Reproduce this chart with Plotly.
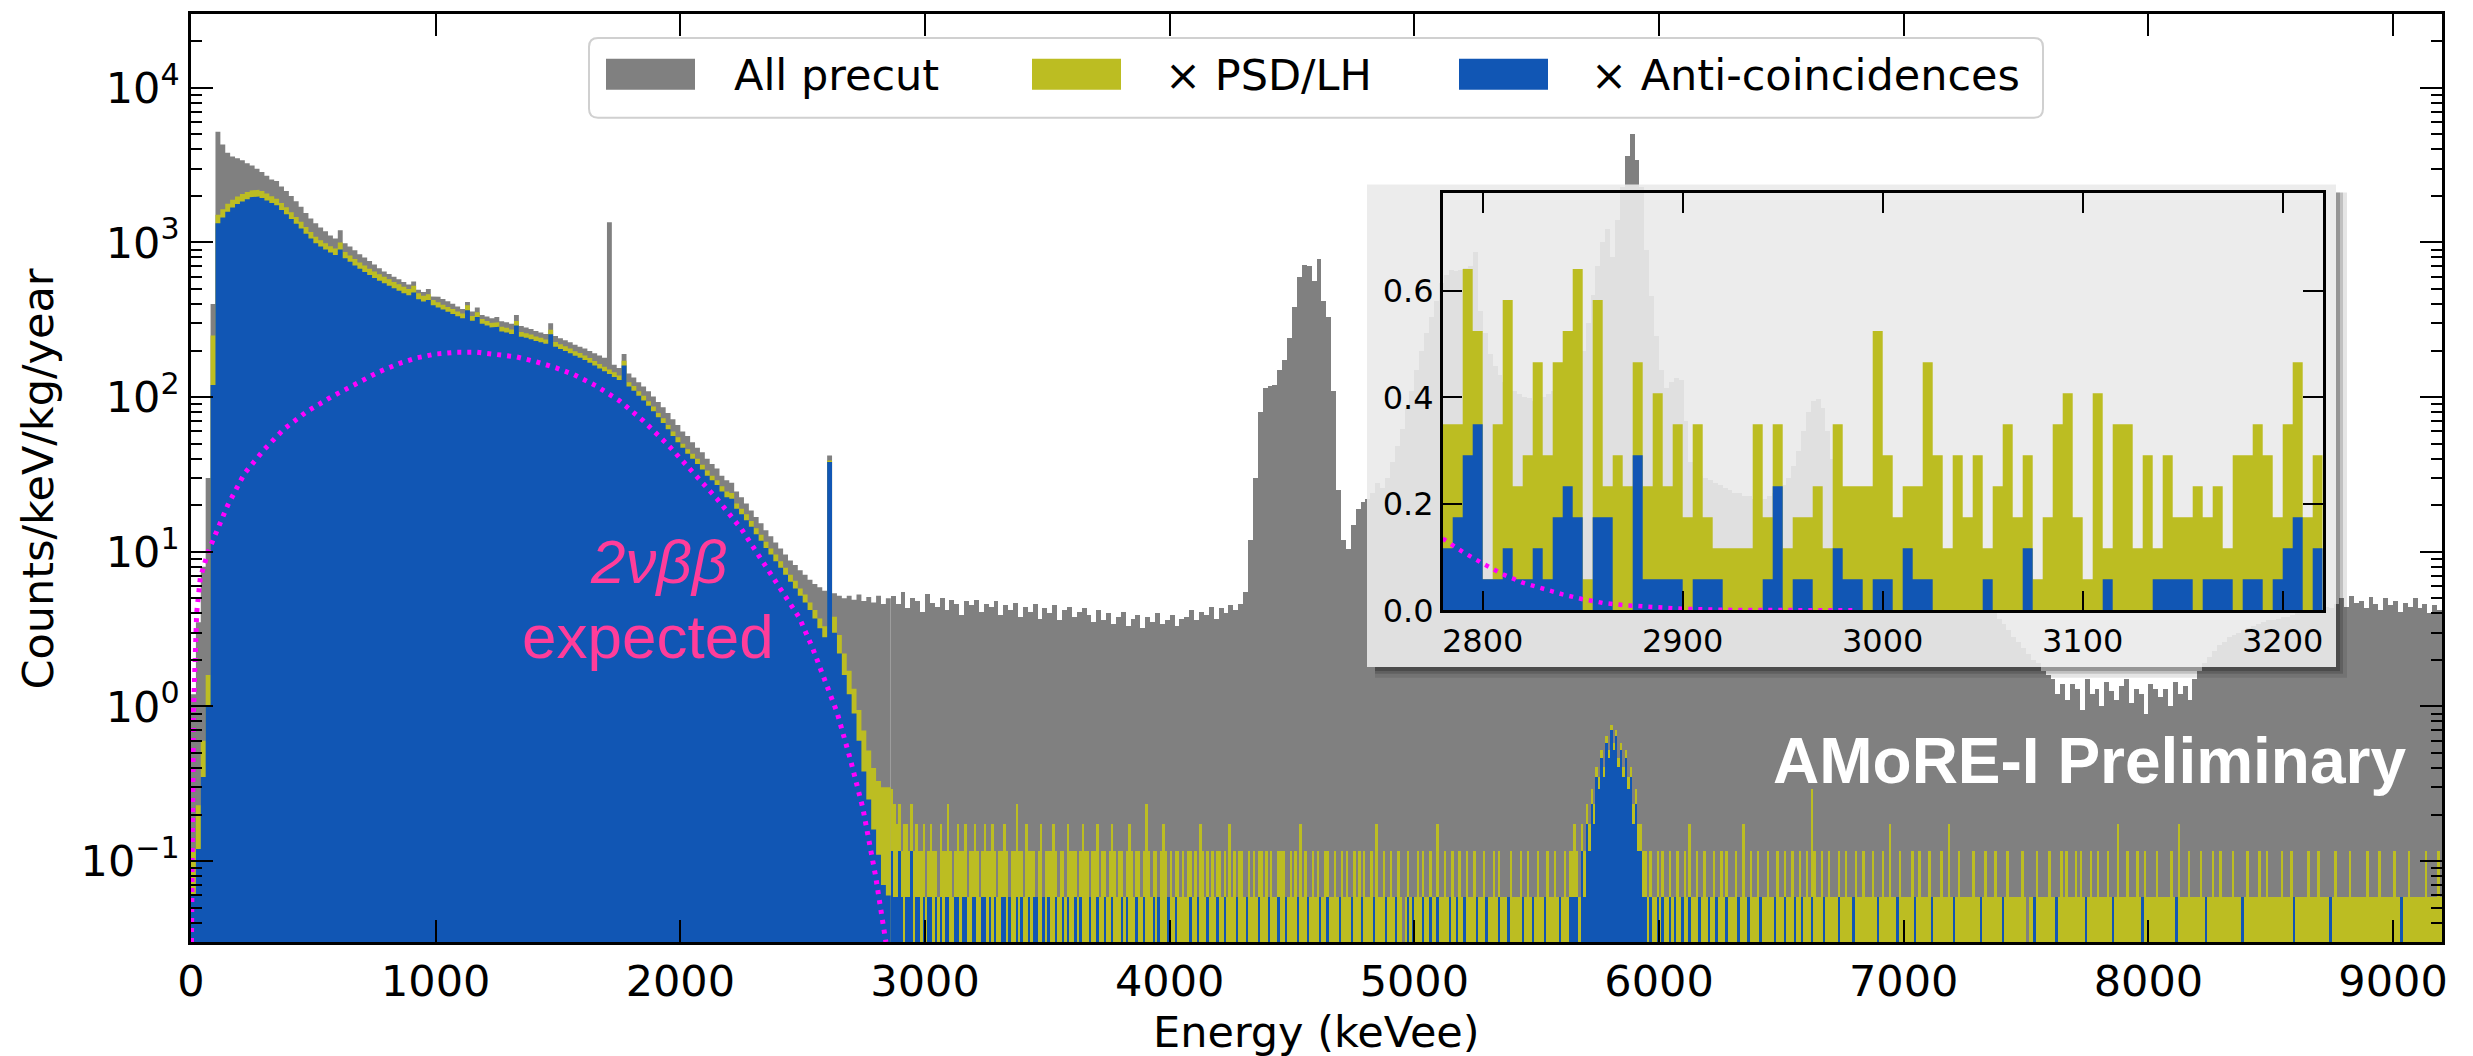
import math
import plotly.graph_objects as go

# ---------------------------------------------------------------- data
UNIT = 0.0583  # one event in a 1 keV bin, in counts/keV/kg/year

# low-energy part: 20 keV bins starting at 0 keV
LOW_START, LOW_W = 0, 20
gray_low = [1.2, 3.5, 8, 30, 400, 5200, 4300, 3800, 3600, 3500,
            3400, 3250, 3150, 3000, 2850, 2700, 2550, 2500, 2300, 2150,
            2000, 1850, 1700, 1550, 1430, 1330, 1250, 1180, 1110, 1060,
            1200, 990, 940, 890, 840, 800, 760, 720, 680, 650,
            625, 600, 578, 556, 535, 560, 495, 478, 500, 448,
            445, 431, 417, 402, 386, 372, 412, 358, 380, 340,
            332, 324, 330, 310, 305, 298, 340, 288, 282, 276,
            268, 262, 256, 300, 248, 240, 233, 226, 218, 212,
            206, 199, 192, 186, 180, 1350, 162, 154, 190, 142,
            134, 125, 117, 109, 101, 93, 86, 79, 72, 66,
            60, 56, 51, 47, 44, 40, 37, 34.5, 31, 29,
            28, 24.5, 22.5, 20.5, 18.5, 16.8, 15.3, 13.8, 12.6, 11.5,
            10.5, 9.6, 8.8, 8.2, 7.6, 7.1, 6.6, 6.2, 5.9, 5.6,
            42, 5.4, 5.2, 5.0, 5.2, 4.9, 5.3, 4.8, 5.1, 4.7,
            5.2, 4.6, 5.0]
psd_low = [0.12, 0.23, 0.6, 1.6, 250, 1510, 1640, 1780, 1890, 1980,
           2060, 2120, 2170, 2190, 2150, 2070, 1990, 1920, 1800, 1690,
           1570, 1460, 1360, 1260, 1170, 1090, 1035, 990, 945, 913,
           1000, 869, 825, 781, 743, 710, 677, 649, 622, 600,
           578, 556, 536, 517, 501, 525, 470, 452, 462, 425,
           410, 396, 383, 371, 358, 347, 392, 335, 354, 320,
           311, 302, 305, 285, 281, 274, 311, 264, 259, 254,
           247, 242, 236, 273, 227, 220, 213, 206, 198, 193,
           186, 179, 171, 164, 157, 151, 145, 138, 172, 125,
           118, 109, 102, 94, 87, 79, 73, 66, 60, 55,
           50, 46, 43, 40, 36.5, 33.5, 31, 29, 26.5, 24.5,
           24, 20.5, 19, 17.5, 15.8, 14.2, 12.9, 11.6, 10.5, 9.6,
           8.7, 7.9, 7.1, 6.5, 5.8, 5.3, 4.7, 4.2, 3.7, 3.3,
           39, 3.8, 2.9, 2.2, 1.7, 1.3, 0.95, 0.7, 0.52, 0.4,
           0.33, 0.3, 0.3]
anti_low = [0.06, 0.12, 0.35, 1.0, 120, 1330, 1450, 1580, 1680, 1770,
            1840, 1900, 1960, 1980, 1940, 1870, 1800, 1740, 1620, 1520,
            1420, 1320, 1230, 1140, 1060, 990, 940, 900, 860, 830,
            900, 790, 750, 710, 675, 645, 615, 590, 565, 545,
            525, 505, 487, 470, 455, 475, 430, 415, 425, 392,
            380, 368, 356, 345, 333, 323, 365, 312, 330, 298,
            290, 282, 285, 266, 262, 256, 290, 246, 242, 237,
            231, 226, 221, 255, 212, 205, 199, 192, 185, 180,
            174, 167, 160, 153, 147, 141, 135, 129, 160, 117,
            110, 102, 95, 88, 81, 74, 68, 62, 56, 51,
            47, 43, 40, 37, 34, 31, 29, 27, 24.5, 22.5,
            22, 19, 17.5, 16, 14.5, 13, 11.8, 10.6, 9.6, 8.7,
            7.9, 7.1, 6.4, 5.8, 5.2, 4.7, 4.2, 3.7, 3.2, 2.8,
            38, 3.0, 2.2, 1.6, 1.2, 0.9, 0.6, 0.38, 0.25, 0.16,
            0.11, 0.07, 0.06]

# high-energy "All precut": 20 keV bins starting at 2860 keV
HIGH_START, HIGH_W = 2860, 20
gray_high = [5.2, 4.6, 5.5, 4.3, 5.0, 4.8, 4.1, 5.3, 4.7, 4.4, 5.0, 4.2, 4.9, 4.6, 3.9, 4.8, 4.5, 4.9, 4.1, 4.6,
             4.4, 4.8, 3.9, 4.5, 4.2, 4.7, 3.8, 4.4, 4.1, 4.6, 3.7, 4.3, 4.0, 4.5, 3.6, 4.2, 4.4, 3.8, 4.1, 4.3,
             3.9, 3.5, 4.2, 3.6, 4.0, 3.4, 3.8, 4.1, 3.3, 3.7, 3.9, 3.2, 3.8, 3.5, 4.0, 3.4, 3.6, 3.9, 3.3, 3.7,
             3.8, 4.2, 3.6, 4.1, 3.9, 4.4, 3.7, 4.3, 4.0, 4.5, 4.2, 4.6, 5.5, 12, 30, 80, 115, 118, 120, 150,
             175, 240, 380, 600, 720, 700, 560, 780, 420, 330, 110, 25, 12, 10.5, 15, 19, 21, 22, 24, 28,
             26, 30, 38, 48, 62, 85, 110, 150, 200, 260, 330, 420, 550, 620, 660, 650, 660, 680, 700, 870,
             360, 260, 190, 160, 140, 125, 115, 110, 105, 100, 98, 95, 95, 100, 105, 110, 115, 125, 140, 160,
             170, 200, 300, 460, 700, 1000, 1230, 800, 1400, 2300, 3600, 5000, 3400, 2300, 900, 450, 250, 150, 115, 125,
             133, 130, 70, 38, 33, 31, 30, 29, 28, 27, 26, 25, 24, 24, 23, 23, 22, 22, 22, 23,
             24, 25, 27, 30, 36, 45, 60, 80, 95, 97, 85, 60, 40, 28, 22, 18, 16, 14, 13, 12,
             11, 10.5, 10, 9.6, 9.2, 8.8, 8.5, 8.2, 7.9, 7.6, 7.3, 7.0, 6.8, 6.6, 6.4, 6.2, 6.0, 5.8, 5.6, 5.4,
             5.2, 5.0, 4.8, 4.6, 4.3, 4.0, 3.7, 3.4, 3.1, 2.8, 2.6, 2.4, 2.2, 2.0, 1.9, 1.7, 1.6, 1.5, 1.2, 1.4,
             1.1, 1.4, 1.3, 0.95, 1.5, 1.2, 1.3, 1.0, 1.45, 1.25, 1.1, 1.35, 1.5, 1.05, 1.3, 1.2, 0.9, 1.4, 1.3, 1.15,
             1.3, 1.0, 1.45, 1.2, 1.35, 1.1, 1.5, 1.7, 1.9, 2.1, 2.3, 2.5, 2.6, 2.8, 2.9, 3.0, 3.1, 3.2, 3.3, 3.4,
             3.5, 3.6, 3.6, 3.7, 3.8, 3.8, 3.9, 4.0, 4.0, 4.1, 4.2, 4.2, 4.3, 4.4, 4.3, 4.6, 5.0, 4.4, 5.2, 4.7,
             4.8, 4.3, 5.1, 4.6, 4.2, 5.0, 4.5, 4.8, 4.1, 4.7, 4.4, 5.0, 4.3, 4.6, 4.0, 4.5, 4.2]

# high-energy PSD / anti-coincidence events: counts, 10 keV bins from 2860 keV
FOREST_START, FOREST_W = 2860, 10
psd_high_counts = [
    5, 4, 3, 4, 2, 3, 3, 2, 4, 2, 3, 2, 2, 3, 1, 2, 3, 2, 2, 1, 3, 2, 2, 4, 2, 1, 2, 3, 2, 2, 3, 1, 2, 2, 3, 2, 1, 2, 3, 2,
    2, 3, 2, 1, 2, 2, 3, 2, 1, 2, 2, 4, 2, 2, 1, 3, 2, 2, 2, 1, 2, 3, 1, 2, 2, 2, 3, 2, 1, 2, 2, 1, 3, 2, 2, 2, 1, 2, 3, 2,
    2, 1, 2, 2, 3, 1, 2, 2, 1, 2, 3, 2, 1, 2, 2, 1, 2, 3, 2, 1, 2, 2, 1, 2, 4, 2, 1, 2, 2, 1, 2, 3, 2, 1, 2, 1, 2, 2, 1, 2,
    1, 2, 2, 1, 2, 1, 3, 2, 1, 2, 1, 2, 1, 2, 2, 1, 2, 1, 3, 1, 2, 1, 2, 2, 1, 1, 2, 1, 2, 1, 2, 2, 1, 2, 1, 2, 1, 1, 2, 2,
    2, 1, 1, 2, 1, 2, 1, 3, 1, 2, 1, 1, 2, 1, 2, 1, 1, 2, 2, 1, 1, 2, 1, 1, 2, 1, 2, 1, 1, 2, 1, 2, 1, 2, 1, 1, 2, 1, 3, 1,
    1, 2, 1, 1, 2, 1, 1, 2, 1, 0, 1, 2, 1, 1, 1, 2, 1, 2, 1, 1, 2, 1, 1, 3, 1, 1, 2, 1, 1, 2, 1, 1, 2, 1, 1, 2, 1, 1, 2, 1,
    1, 1, 2, 1, 1, 1, 2, 1, 2, 1, 1, 1, 1, 2, 1, 1, 1, 2, 1, 1, 2, 1, 1, 1, 2, 1, 1, 1, 2, 1, 1, 2, 1, 1, 1, 2, 1, 2, 2, 3,
    2, 1, 3, 2, 4, 3, 5, 4, 7, 6, 9, 7, 11, 9, 13, 10, 12, 8, 10, 7, 9, 6, 7, 4, 5, 3, 3, 2, 2, 1, 2, 1, 1, 2, 1, 2, 1, 1, 2, 1,
    1, 2, 1, 1, 2, 1, 3, 1, 1, 2, 1, 1, 2, 1, 1, 1, 2, 1, 1, 2, 1, 2, 1, 1, 1, 2, 1, 1, 3, 1, 1, 2, 1, 1, 2, 1, 1, 1, 2, 1,
    1, 1, 2, 1, 1, 2, 1, 1, 2, 1, 1, 2, 1, 1, 2, 1, 5, 2, 1, 1, 2, 1, 1, 2, 1, 1, 1, 2, 1, 1, 2, 1, 1, 1, 2, 1, 1, 2, 1, 1,
    1, 2, 1, 1, 1, 2, 1, 1, 3, 1, 1, 1, 2, 1, 1, 1, 1, 2, 1, 1, 2, 1, 1, 1, 2, 1, 1, 1, 1, 2, 1, 1, 3, 1, 1, 1, 2, 1, 1, 1,
    1, 1, 2, 1, 1, 1, 1, 2, 1, 1, 1, 2, 1, 1, 1, 1, 2, 1, 1, 1, 1, 1, 2, 1, 0, 1, 1, 1, 2, 1, 1, 1, 1, 2, 1, 1, 1, 1, 2, 1,
    2, 1, 1, 1, 2, 1, 2, 1, 1, 1, 2, 1, 1, 2, 1, 1, 1, 2, 1, 1, 1, 3, 1, 1, 1, 2, 1, 1, 1, 2, 1, 1, 2, 1, 1, 1, 1, 2, 1, 1,
    1, 1, 1, 2, 1, 1, 3, 1, 1, 1, 2, 1, 1, 1, 1, 2, 1, 1, 1, 1, 2, 1, 1, 2, 1, 1, 1, 1, 2, 1, 1, 1, 1, 1, 2, 1, 1, 1, 1, 2,
    1, 1, 2, 1, 1, 1, 1, 1, 2, 1, 1, 1, 2, 1, 1, 1, 1, 1, 1, 2, 1, 1, 1, 2, 1, 1, 1, 1, 1, 1, 2, 1, 1, 1, 1, 1, 2, 1, 1, 1,
    1, 1, 1, 2, 1, 1, 1, 1, 2, 1, 1, 1, 1, 1, 2, 1, 1, 1, 1, 1, 2, 1, 1, 1, 1, 1, 1, 2, 1, 1, 1, 1, 2, 1]
anti_high_counts = [
    2, 1, 1, 2, 1, 0, 1, 1, 2, 0, 1, 1, 0, 1, 0, 1, 1, 0, 1, 0, 1, 0, 1, 1, 0, 0, 1, 1, 0, 1, 1, 0, 0, 1, 1, 0, 0, 1, 1, 0,
    1, 0, 1, 0, 0, 1, 1, 0, 1, 0, 0, 1, 0, 1, 0, 0, 1, 0, 1, 1, 0, 0, 1, 0, 1, 0, 0, 1, 0, 0, 1, 0, 1, 0, 0, 1, 0, 1, 0, 0,
    0, 1, 0, 0, 1, 0, 0, 1, 0, 0, 1, 0, 0, 0, 1, 0, 1, 0, 0, 0, 1, 0, 0, 1, 0, 0, 0, 1, 0, 1, 0, 0, 0, 1, 0, 0, 1, 0, 0, 0,
    0, 0, 1, 0, 0, 1, 0, 0, 0, 1, 0, 0, 0, 1, 0, 0, 1, 0, 0, 0, 0, 1, 0, 0, 0, 1, 0, 0, 0, 0, 1, 0, 0, 0, 1, 0, 0, 0, 1, 0,
    0, 1, 0, 0, 0, 0, 1, 0, 0, 0, 1, 0, 0, 0, 0, 1, 0, 0, 1, 0, 0, 0, 0, 1, 0, 0, 0, 0, 1, 0, 0, 0, 1, 0, 0, 0, 0, 1, 0, 0,
    0, 0, 1, 0, 0, 0, 1, 0, 0, 0, 0, 1, 0, 1, 0, 0, 0, 1, 0, 0, 1, 0, 0, 1, 0, 0, 0, 0, 1, 0, 0, 1, 0, 0, 1, 0, 0, 0, 0, 1,
    0, 0, 0, 1, 0, 0, 0, 0, 1, 0, 0, 0, 1, 0, 0, 0, 0, 0, 1, 0, 0, 0, 1, 0, 0, 0, 0, 1, 0, 0, 0, 0, 0, 1, 0, 0, 0, 1, 1, 1,
    1, 0, 2, 1, 3, 2, 4, 3, 6, 5, 8, 6, 10, 8, 12, 9, 11, 7, 9, 6, 8, 5, 6, 3, 4, 2, 2, 1, 1, 0, 1, 0, 0, 1, 0, 1, 0, 0, 1, 0,
    1, 0, 0, 1, 0, 0, 1, 0, 0, 0, 1, 0, 0, 0, 1, 0, 0, 1, 0, 0, 0, 1, 0, 0, 0, 0, 1, 0, 0, 0, 1, 0, 0, 0, 0, 1, 0, 0, 0, 0,
    0, 1, 0, 0, 0, 1, 0, 0, 0, 1, 0, 0, 1, 0, 0, 0, 1, 0, 0, 0, 0, 1, 0, 0, 0, 0, 0, 1, 0, 0, 0, 0, 0, 1, 0, 0, 0, 0, 0, 0,
    0, 0, 0, 1, 0, 0, 0, 0, 0, 0, 0, 1, 0, 0, 0, 0, 0, 0, 1, 0, 0, 0, 0, 0, 0, 1, 0, 0, 0, 0, 0, 0, 0, 0, 1, 0, 0, 0, 0, 0,
    0, 0, 0, 0, 0, 1, 0, 0, 0, 0, 0, 0, 0, 0, 1, 0, 0, 0, 0, 0, 0, 0, 0, 0, 0, 0, 0, 1, 0, 0, 0, 0, 0, 0, 0, 0, 1, 0, 0, 0,
    0, 0, 0, 0, 0, 0, 0, 0, 1, 0, 0, 0, 0, 0, 0, 0, 0, 0, 0, 1, 0, 0, 0, 0, 0, 0, 0, 0, 0, 0, 0, 1, 0, 0, 0, 0, 0, 0, 0, 0,
    0, 0, 0, 0, 0, 1, 0, 0, 0, 0, 0, 0, 0, 0, 0, 0, 0, 1, 0, 0, 0, 0, 0, 0, 0, 0, 0, 0, 0, 0, 0, 0, 1, 0, 0, 0, 0, 0, 0, 0,
    0, 0, 0, 0, 0, 0, 0, 0, 0, 0, 0, 0, 0, 1, 0, 0, 0, 0, 0, 0, 0, 0, 0, 0, 0, 0, 0, 0, 1, 0, 0, 0, 0, 0, 0, 0, 0, 0, 0, 0,
    0, 0, 0, 0, 0, 0, 0, 0, 0, 0, 0, 0, 0, 0, 0, 0, 0, 1, 0, 0, 0, 0, 0, 0, 0, 0, 0, 0, 0, 0, 0, 0, 0, 0]

# expected 2vbb spectrum (main panel)
tbb_E = [2, 6, 10, 16, 23, 38, 70, 100, 150, 218, 300, 379, 470, 572, 670, 765, 850, 926, 1000, 1087,
         1170, 1250, 1330, 1407, 1490, 1564, 1657, 1750, 1850, 1950, 2050, 2150, 2250, 2350,
         2430, 2486, 2540, 2590, 2641, 2694, 2746, 2798, 2840]
tbb_v = [0.03, 0.3, 0.9, 1.8, 4.0, 6.8, 10, 13, 20, 32, 46, 62, 80, 100, 122, 145, 165, 180, 190, 195,
         195, 190, 182, 170, 155, 140, 118, 95, 70, 49, 33, 22, 14, 8,
         5, 3.75, 2.4, 1.5, 0.91, 0.46, 0.22, 0.08, 0.03]

# inset: 5 keV bins from 2780 keV, in counts
INSET_START, INSET_W = 2780, 5
inset_psd_counts = [6, 6, 11, 9, 1, 6, 10, 4, 5, 8, 5, 8, 9, 11, 1, 10, 4, 5, 4, 8,
                    4, 7, 4, 6, 3, 6, 3, 2, 2, 2, 2, 6, 3, 6, 2, 3, 3, 4, 2, 6,
                    4, 4, 4, 9, 5, 3, 4, 4, 8, 5, 2, 5, 3, 5, 2, 4, 6, 3, 5, 1,
                    3, 6, 7, 3, 1, 7, 2, 6, 6, 2, 5, 2, 5, 3, 3, 4, 3, 4, 2, 5,
                    5, 6, 5, 3, 6, 8, 3, 5]
inset_anti_counts = [2, 3, 5, 6, 1, 1, 2, 1, 1, 2, 1, 3, 4, 3, 0, 3, 3, 0, 0, 5,
                     1, 1, 1, 1, 0, 1, 1, 1, 0, 0, 0, 0, 1, 4, 0, 1, 1, 0, 0, 2,
                     1, 1, 0, 1, 1, 0, 2, 1, 1, 0, 0, 0, 0, 0, 1, 0, 0, 0, 2, 0,
                     0, 0, 0, 0, 0, 0, 1, 0, 0, 0, 0, 1, 1, 1, 1, 0, 1, 1, 1, 0,
                     1, 1, 0, 1, 2, 3, 0, 2]
inset_tbb_E = [2780, 2790, 2800, 2810, 2820, 2830, 2840, 2850, 2860, 2870, 2880, 2890, 2900, 2920, 2950, 2985]
inset_tbb_v = [0.135, 0.11, 0.088, 0.068, 0.052, 0.04, 0.03, 0.021, 0.014, 0.01, 0.007, 0.005, 0.003, 0.001, 0.0003, 0.0]

x_ticks = [0, 1000, 2000, 3000, 4000, 5000, 6000, 7000, 8000, 9000]
y_ticks = [0.1, 1, 10, 100, 1000, 10000]
y_ticktext = ["10<sup>\u22121</sup>", "10<sup>0</sup>", "10<sup>1</sup>",
              "10<sup>2</sup>", "10<sup>3</sup>", "10<sup>4</sup>"]
inset_x_ticks = [2800, 2900, 3000, 3100, 3200]
inset_y_ticks = [0.0, 0.2, 0.4, 0.6]
inset_y_ticktext = ["0.0", "0.2", "0.4", "0.6"]

legend_labels = ["All precut", "\u00d7 PSD/LH", "\u00d7 Anti-coincidences"]

# ---------------------------------------------------------------- style
GRAY, OLIVE, BLUE, MAGENTA, PINK = "#808080", "#bcbd22", "#1156b4", "#ff00ff", "#ff3d9a"
W, H = 2473, 1056
L, R, T, B = 191, 2442, 11, 942        # main plot area in pixels
TICKFONT = dict(family="DejaVu Sans", size=43, color="black")


def P(px, py):
    return (px - L) / (R - L), (B - py) / (B - T)


def steps(start, width, vals, scale=1.0):
    xs, ys = [], []
    for i, v in enumerate(vals):
        x0 = start + i * width
        xs += [x0, x0 + width]
        ys += [v * scale, v * scale]
    return xs, ys


def fill_trace(xs, ys, color, xa="x", ya="y"):
    return go.Scatter(x=xs, y=ys, mode="lines", line=dict(width=0, color=color),
                      fill="tozeroy", fillcolor=color, xaxis=xa, yaxis=ya,
                      hoverinfo="skip", showlegend=False)


def bar_trace(start, width, vals, color, scale=1.0):
    xs = [start + (i + 0.5) * width for i in range(len(vals))]
    ys = [v * scale if v > 0 else None for v in vals]
    return go.Bar(x=xs, y=ys, width=width, marker=dict(color=color, line=dict(width=0)),
                   hoverinfo="skip", showlegend=False, xaxis="x", yaxis="y")


fig = go.Figure()

# main histograms, low-energy part (filled steps)
fig.add_trace(fill_trace(*steps(LOW_START, LOW_W, gray_low), GRAY))
fig.add_trace(fill_trace(*steps(LOW_START, LOW_W, psd_low), OLIVE))
fig.add_trace(fill_trace(*steps(LOW_START, LOW_W, anti_low), BLUE))
# high-energy part (bars, empty bins left empty)
fig.add_trace(bar_trace(HIGH_START, HIGH_W, gray_high, GRAY))
fig.add_trace(bar_trace(FOREST_START, FOREST_W, psd_high_counts, OLIVE, UNIT))
fig.add_trace(bar_trace(FOREST_START, FOREST_W, anti_high_counts, BLUE, UNIT))

fig.add_trace(go.Scatter(x=tbb_E, y=tbb_v, mode="lines",
                         line=dict(color=MAGENTA, width=5, dash="4px,6px"),
                         hoverinfo="skip", showlegend=False))

# inset frame (overlay axes in pixel units): shadow + translucent panel
bx0, by0, bx1, by1 = 1367, 182, 2336, 666


def lshape(d):
    return ([bx1, bx1 + d, bx1 + d, bx0 + 8, bx0 + 8, bx1, bx1],
            [by0 + 8, by0 + 8, by1 + d, by1 + d, by1, by1, by0 + 8])


for d, a in [(11, 0.10), (7, 0.16), (4, 0.22)]:
    sx, sy = lshape(d)
    fig.add_trace(go.Scatter(x=sx, y=sy, mode="lines", fill="toself",
                             fillcolor=f"rgba(0,0,0,{a})", line=dict(width=0),
                             xaxis="x2", yaxis="y2", hoverinfo="skip", showlegend=False))
fig.add_trace(go.Scatter(x=[bx0, bx1, bx1, bx0, bx0], y=[by0, by0, by1, by1, by0],
                         mode="lines", fill="toself", fillcolor="rgba(234,234,234,0.9)",
                         line=dict(width=0), xaxis="x2", yaxis="y2",
                         hoverinfo="skip", showlegend=False))

# inset histograms
fig.add_trace(fill_trace(*steps(INSET_START, INSET_W, inset_psd_counts, UNIT), OLIVE, "x3", "y3"))
fig.add_trace(fill_trace(*steps(INSET_START, INSET_W, inset_anti_counts, UNIT), BLUE, "x3", "y3"))
fig.add_trace(go.Scatter(x=inset_tbb_E, y=inset_tbb_v, mode="lines",
                         line=dict(color=MAGENTA, width=4.5, dash="4px,6px"),
                         xaxis="x3", yaxis="y3", hoverinfo="skip", showlegend=False))

# ---------------------------------------------------------------- axes
common = dict(showline=True, linecolor="black", linewidth=2.5, ticks="inside",
              tickcolor="black", mirror="ticks", showgrid=False, zeroline=False)
minor_vals = [m * 10 ** d for d in range(-2, 5) for m in range(2, 10)
              if 0.03 <= m * 10 ** d <= 30000]

ix0, _ = P(1442.7, 0)
ix1, _ = P(2322.7, 0)
_, iy0 = P(0, 609.3)
_, iy1 = P(0, 190.7)

fig.update_layout(
    width=W, height=H, autosize=False,
    margin=dict(l=L, r=W - R, t=T, b=H - B, pad=0),
    paper_bgcolor="white", plot_bgcolor="rgba(0,0,0,0)",
    showlegend=False, hovermode=False, barmode="overlay", bargap=0,
    xaxis=dict(domain=[0, 1], range=[0, 9200], tickvals=x_ticks, ticklen=22, tickwidth=2,
               tickfont=TICKFONT, anchor="y", **common),
    yaxis=dict(domain=[0, 1], type="log", range=[math.log10(0.03), math.log10(30000)],
               tickvals=y_ticks, ticktext=y_ticktext, ticklen=22, tickwidth=2,
               tickfont=TICKFONT, anchor="x",
               minor=dict(ticks="inside", ticklen=11, tickwidth=1.6, tickcolor="black",
                          tickmode="array", tickvals=minor_vals),
               **common),
    xaxis2=dict(domain=[0, 1], range=[L, R], visible=False, anchor="y2", fixedrange=True),
    yaxis2=dict(domain=[0, 1], range=[B, T], visible=False, anchor="x2", fixedrange=True),
    xaxis3=dict(domain=[ix0, ix1], range=[2780, 3220], tickvals=inset_x_ticks, ticklen=20,
                tickwidth=2, tickfont=dict(family="DejaVu Sans", size=32, color="black"),
                anchor="y3", **common),
    yaxis3=dict(domain=[iy0, iy1], range=[0, 0.784], tickvals=inset_y_ticks,
                ticktext=inset_y_ticktext, ticklen=20, tickwidth=2,
                tickfont=dict(family="DejaVu Sans", size=32, color="black"),
                anchor="x3", **common),
)

# ---------------------------------------------------------------- texts
ann = []


def text(px, py, s, size, color="black", family="DejaVu Sans", xanchor="center", angle=0):
    x, y = P(px, py)
    ann.append(dict(x=x, y=y, xref="paper", yref="paper", text=s, showarrow=False,
                    xanchor=xanchor, yanchor="middle", textangle=angle,
                    font=dict(family=family, size=size, color=color)))


text(1316, 1032, "Energy (keVee)", 43)
text(38, 478, "Counts/keV/kg/year", 43, angle=-90)
text(658, 560, "<i>2\u03bd\u03b2\u03b2</i>", 62, PINK, "Liberation Sans")
text(648, 636, "expected", 62, PINK, "Liberation Sans")
text(2089, 760, "<b>AMoRE-I Preliminary</b>", 64, "white", "Liberation Sans")

# legend (drawn by hand to match the large patches)
shapes = []
lx0, ly0, lx1, ly1, r = 589, 35, 2043, 115, 9


def X(px):
    return P(px, 0)[0]


def Y(py):
    return P(0, py)[1]


path = (f"M {X(lx0 + r)},{Y(ly0)} L {X(lx1 - r)},{Y(ly0)} Q {X(lx1)},{Y(ly0)} {X(lx1)},{Y(ly0 + r)} "
        f"L {X(lx1)},{Y(ly1 - r)} Q {X(lx1)},{Y(ly1)} {X(lx1 - r)},{Y(ly1)} "
        f"L {X(lx0 + r)},{Y(ly1)} Q {X(lx0)},{Y(ly1)} {X(lx0)},{Y(ly1 - r)} "
        f"L {X(lx0)},{Y(ly0 + r)} Q {X(lx0)},{Y(ly0)} {X(lx0 + r)},{Y(ly0)} Z")
shapes.append(dict(type="path", path=path, xref="paper", yref="paper", layer="above",
                   fillcolor="rgba(255,255,255,0.8)", line=dict(color="#d0d0d0", width=2)))
patch_x = [606, 1032, 1459]
text_x = [732, 1163, 1589]
for pxl, txl, col, lab in zip(patch_x, text_x, [GRAY, OLIVE, BLUE], legend_labels):
    x0, y0 = P(pxl, 87)
    x1, y1 = P(pxl + 89, 56)
    shapes.append(dict(type="rect", x0=x0, y0=y0, x1=x1, y1=y1, xref="paper", yref="paper",
                       layer="above", fillcolor=col, line=dict(width=0)))
    text(txl, 72, lab, 43, xanchor="left")

fig.update_layout(annotations=ann, shapes=shapes)

fig.write_html("out.html", include_plotlyjs=True, config={"displayModeBar": False})
